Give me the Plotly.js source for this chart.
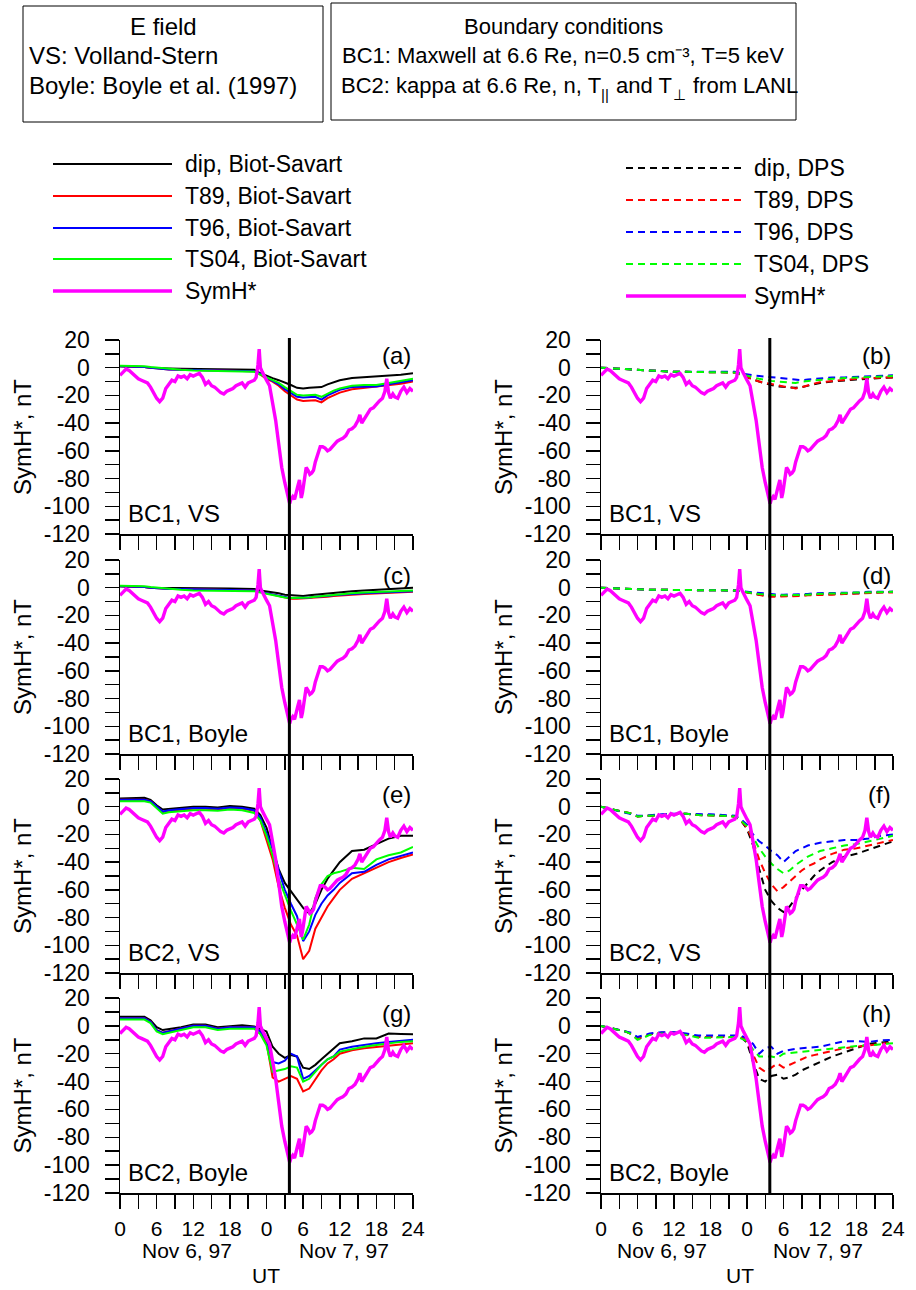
<!DOCTYPE html>
<html>
<head>
<meta charset="utf-8">
<script src="https://cdn.plot.ly/plotly-3.0.1.min.js"></script>
<style>html,body{margin:0;padding:0;background:#fff}#chart{width:916px;height:1290px}</style>
</head>
<body>
<div id="chart"></div>
<script>
// ---------- DATA ----------
// hours since 00 UT Nov 6, 1997
var modelHours = [0,2,4,5,6,7,8,10,12,14,16,18,20,22,23,24,25,26,27,28,29,30,31,32,33,34,35,36,38,40,42,44,46,48];

// (a) BC1, VS, Biot-Savart
var a_dip  = [1,1,0.5,0,0,-0.3,-0.5,-0.7,-0.8,-1,-1,-1,-1.2,-1.5,-4,-6,-7.5,-9,-10.5,-12.5,-14.5,-15,-14.5,-14.5,-14,-12,-10.5,-9,-7.5,-7,-6.5,-6,-5,-4];
var a_t89  = [1,1,0.5,0,-0.5,-1,-1.2,-1.5,-1.8,-2,-2,-2.2,-2.3,-2.5,-5,-8,-10,-13,-17,-20,-23,-24,-23.5,-23.5,-25,-22,-20,-18,-15.5,-14.5,-14,-13,-11.5,-10];
var a_t96  = [1,1,0.5,0,-0.5,-1,-1.2,-1.5,-1.8,-2,-2,-2.2,-2.3,-2.5,-4.5,-7,-9,-12,-15.5,-18.5,-21,-21.5,-21,-21,-23,-20,-18,-16,-14,-13.5,-13.5,-12,-10.5,-9];
var a_ts04 = [1.5,1.5,1,0.5,0,-0.5,-1,-1.5,-2,-2.2,-2.5,-2.5,-2.8,-3,-5,-7,-8.5,-11,-14,-17,-19.5,-20,-19.5,-19.5,-21,-18.5,-16.5,-15,-13,-12.5,-12.5,-11,-9.5,-8];
// (b) BC1, VS, DPS
var b_dip  = [0,-0.5,-1,-1.5,-2,-2,-2.2,-2.5,-3,-3,-3,-3,-3,-3.5,-5,-7,-8.5,-10,-11.5,-12.5,-13.5,-14,-14.5,-14.5,-14,-13,-12,-11,-10,-9,-8.5,-8,-7.5,-7];
var b_t89  = [0,-0.5,-1,-1.5,-2,-2,-2.2,-2.5,-3,-3,-3,-3,-3,-3.5,-5,-7,-8.5,-10,-11,-12,-13,-13.5,-14,-15,-14,-12.5,-11.5,-10.5,-9.5,-8.5,-8,-7.5,-7.5,-7];
var b_t96  = [0,-0.5,-1,-1.5,-2,-2,-2.2,-2.5,-3,-3,-3,-3,-3,-3,-4,-5,-5.5,-6,-6.5,-7,-7.5,-8,-8.5,-9,-9,-8.5,-8,-7.5,-7,-7,-6.5,-6.5,-6,-5.5];
var b_ts04 = [0,-0.5,-1,-1.5,-2,-2,-2.2,-2.5,-3,-3,-3,-3,-3,-3.5,-4.5,-6,-7,-8,-9,-9.5,-10,-10.5,-11,-11,-10,-9.5,-9,-8.5,-8,-7.5,-7,-7,-6.5,-6];
// (c) BC1, Boyle, Biot-Savart
var c_dip  = [1,1,0.5,0,0,-0.5,-0.5,-0.5,-0.5,-0.5,-0.5,-0.5,-0.7,-1,-2,-2.5,-3,-4,-5,-5.5,-6,-6,-5.5,-5,-4.5,-4,-3.5,-3,-2.5,-2,-1.5,-1,-0.5,0];
var c_t89  = [1,1,0.5,0,-0.5,-1,-1,-1,-1.2,-1.5,-1.5,-1.5,-1.7,-2,-3,-4,-5,-6,-7.5,-8,-8,-8,-7.5,-7,-7,-6.5,-6,-5.5,-5,-4.5,-4,-3.5,-3,-3];
var c_t96  = [1,1,0.5,0,-0.5,-1,-1,-1,-1.2,-1.5,-1.5,-1.5,-1.7,-2,-3,-4,-5,-6,-7,-7.5,-7.5,-7.5,-7,-6.5,-6.5,-6,-5.5,-5,-4.5,-4,-3.5,-3,-2.5,-2.5];
var c_ts04 = [1.5,1.5,1,0.5,0,-0.5,-1,-1.5,-2,-2,-2,-2,-2.2,-2.5,-3.5,-4.5,-5.5,-6.5,-7,-7.5,-7.5,-7.5,-7,-6.5,-6,-5.5,-5,-4.5,-4,-3.5,-3,-3,-2.5,-2];
// (d) BC1, Boyle, DPS
var d_dip  = [0,-0.5,-1,-1,-1.5,-1.5,-1.5,-1.5,-1.5,-1.5,-1.5,-1.5,-1.5,-2,-2.5,-3.5,-4.5,-5,-5.5,-6,-6,-6,-6,-5.5,-5.5,-5,-5,-5,-4.5,-4.5,-4,-3.5,-3.5,-3];
var d_t89  = [0,-0.5,-1,-1,-1.5,-1.5,-1.5,-1.5,-1.5,-1.5,-1.5,-1.5,-1.5,-2,-2.5,-3.5,-4.5,-5.5,-6,-6.5,-6.5,-6.5,-6.5,-6,-6,-5.5,-5.5,-5,-5,-4.5,-4,-4,-3.5,-3.5];
var d_t96  = [0,-0.5,-1,-1,-1.5,-1.5,-1.5,-1.5,-1.5,-1.5,-1.5,-1.5,-1.5,-2,-2.5,-3,-3.5,-4,-4.5,-5,-5,-5,-5,-4.5,-4.5,-4.5,-4,-4,-4,-3.5,-3.5,-3,-3,-3];
var d_ts04 = [0,-0.5,-1,-1,-1.5,-1.5,-1.5,-1.5,-1.5,-1.5,-1.5,-1.5,-1.5,-2,-2.5,-3.5,-4,-4.5,-5,-5.5,-5.5,-5.5,-5.5,-5,-5,-5,-4.5,-4.5,-4,-4,-3.5,-3.5,-3,-3];
// (e) BC2, VS, Biot-Savart
var e_dip  = [6,6,6.5,5,1,-2,-1.5,-0.5,0,0,-0.5,0.5,0,-1.5,-6,-15,-30,-45,-55,-61,-67,-73,-77,-70,-60,-52,-46,-40,-32,-31,-27,-23,-21,-21];
var e_t89  = [5,5,5,4,0,-4,-3,-2,-1.5,-1.5,-2,-1,-1.5,-3,-10,-24,-38,-58,-73,-85,-93,-110,-104,-88,-80,-72,-66,-60,-52,-48,-44,-40,-37,-34.5];
var e_t96  = [5,5,5,4,0,-3.5,-2.5,-1.5,-1,-1,-1.5,-0.5,-1,-2.5,-8,-19,-30,-46,-60,-70,-79,-97,-90,-78,-70,-64,-60,-55,-48,-47,-42,-38,-35.5,-33];
var e_ts04 = [4,4,4,3,-1,-5,-4,-3,-2.5,-2.5,-3,-2,-2.5,-4.5,-10,-21,-35,-52,-64,-75,-85,-96,-85,-66,-56,-50,-48,-47,-44,-45,-38,-35,-33,-29];
// (f) BC2, VS, DPS
var f_dip  = [0,-2,-4,-5,-7,-7,-6.5,-6,-5.5,-5,-6,-6,-6.5,-7,-10,-16,-28,-45,-60,-68,-73,-76,-72,-66,-60,-55,-50,-46,-40,-36,-34,-31,-28,-25];
var f_t89  = [0,-2,-4,-5,-7,-7,-6.5,-6,-5.5,-5,-6,-6,-6.5,-7,-10,-15,-25,-38,-48,-56,-61,-58,-54,-50,-46,-43,-41,-38,-34,-31,-30,-28,-26,-24];
var f_t96  = [0,-2,-4,-5,-6.5,-6.5,-6,-5.5,-5,-5,-5.5,-5.5,-6,-6.5,-9,-13,-20,-25,-28,-32,-35,-40,-36,-32,-30,-28,-27,-26,-25,-24,-24,-23,-21,-20];
var f_ts04 = [0,-2,-4,-5,-7,-7,-6.5,-6,-5.5,-5,-6,-6,-6.5,-7,-10,-14,-22,-30,-36,-41,-45,-48,-46,-42,-39,-36,-34,-32,-30,-28,-27,-25,-23,-21];
// (g) BC2, Boyle, Biot-Savart
var g_dip  = [6.5,6.5,6.5,4,-1,-3,-2.5,-1,1,1,-1,0,0.5,-0.5,-2,-4,-15,-20,-23,-21,-22,-30,-31,-28,-24,-20,-16,-12.5,-11,-9,-9,-5.5,-5.8,-6];
var g_t89  = [5.5,5.5,5.5,3,-3,-5,-4,-2,0,0,-2,-1,-1,-1,-4,-12,-37,-40,-38,-36,-38,-47,-45,-38,-32,-27,-24,-20,-17.5,-16,-15,-14,-13,-12.5];
var g_t96  = [5.5,5.5,5.5,3,-3,-5,-4,-2,0,0,-2,-1,-1,-1,-4,-10,-26,-27,-25,-20,-22,-38,-36,-32,-28,-24,-22,-17,-15,-13.5,-12.5,-11.5,-10.5,-10];
var g_ts04 = [4.5,4.5,4.5,2,-4,-6,-5,-3,-1,-1,-3,-2,-2,-2,-6,-14,-33,-32,-31,-29,-30,-40,-38,-33,-28,-24,-22,-18.5,-16.5,-15,-13.7,-12.5,-11.5,-11];
// (h) BC2, Boyle, DPS
var h_dip  = [0,-2,-4,-6,-9,-8,-6,-5,-5,-6,-8,-8,-8,-7.5,-8,-12,-26,-38,-40,-36,-35,-38,-37,-35,-32,-30,-28,-26,-22,-19,-16,-13,-12,-11];
var h_t89  = [0,-2,-4,-6,-9,-8,-6,-5,-5,-6,-8,-8,-8,-7.5,-8,-11,-21,-30,-33,-30,-27,-30,-28,-26,-24,-22,-21,-20,-18,-16,-15,-14,-13,-12];
var h_t96  = [0,-2,-3.5,-5,-8,-7,-5.5,-4.5,-4.5,-5.5,-7,-7,-7,-6.5,-7,-9,-13,-20,-16,-15,-20,-18,-17,-16.5,-16,-15.5,-15,-15,-13,-11,-11,-11.5,-10.5,-10];
var h_ts04 = [0,-2,-4,-6,-10,-8.5,-6.5,-5.5,-5.5,-6.5,-8.5,-8.5,-8.5,-8,-9,-11,-17,-22,-22,-22,-23,-20,-19.5,-19,-18.5,-18,-17.5,-17.5,-16,-15,-14.5,-14,-13,-12.5];

// observed SymH*
var symHours = [0,0.5,1,1.5,2,2.5,3,3.5,4,4.5,5,5.5,6,6.5,7,7.5,8,8.5,9,9.5,10,10.5,11,11.5,12,12.5,13,13.5,14,14.5,15,15.5,16,16.5,17,17.5,18,18.5,19,19.5,20,20.5,21,21.5,22,22.3,22.6,22.8,23,23.3,23.6,24,24.5,25,25.5,26,26.5,27,27.5,27.8,28,28.3,28.6,28.8,29.1,29.4,29.7,29.9,30.2,30.5,30.8,31.1,31.4,31.7,32,32.4,32.8,33.2,33.6,34,34.4,34.8,35.2,35.6,36,36.5,37,37.5,38,38.5,39,39.3,39.6,40,40.5,41,41.5,42,42.5,43,43.4,43.7,44,44.3,44.7,45,45.5,46,46.5,47,47.5,48];
var symH = [-5.5,-3,-1,-2,-4,-6,-8,-9,-10,-11,-14,-18,-22,-24.5,-22,-15,-12,-9,-10,-6,-7,-6,-8,-5,-6,-5,-4,-7,-12,-10,-13,-14,-16,-18,-19,-17,-16,-15,-13,-12,-11,-14,-11,-10,-9,-7,2,13.5,0,-3,-6,-9,-13,-25,-38,-55,-72,-83,-92,-98,-95,-93,-95,-90,-86,-81,-94,-90,-80,-72,-74,-77,-76,-74,-68,-62,-57,-57,-58,-60,-59,-57,-55,-53,-52,-51,-49,-45,-44,-42,-38,-34,-40,-37,-33,-30,-29,-26,-24,-22,-17,-8,-18,-22,-19,-21,-22,-17,-14,-18,-15,-17];

var eventHour = 27.75;   // vertical marker

var panelLetters = ['(a)','(b)','(c)','(d)','(e)','(f)','(g)','(h)'];
var panelCases = ['BC1, VS','BC1, VS','BC1, Boyle','BC1, Boyle','BC2, VS','BC2, VS','BC2, Boyle','BC2, Boyle'];
var modelNames = ['dip','T89','T96','TS04'];
var modelColors = ['#000000','#ff0000','#0000ff','#00ff00'];
var leftLegend = ['dip, Biot-Savart','T89, Biot-Savart','T96, Biot-Savart','TS04, Biot-Savart','SymH*'];
var rightLegend = ['dip, DPS','T89, DPS','T96, DPS','TS04, DPS','SymH*'];
var xTickVals = [0,6,12,18,24,30,36,42,48];
var xTickText = ['0','6','12','18','0','6','12','18','24'];
var xMinorVals = [3,9,15,21,27,33,39,45];
var yTickVals = [-120,-100,-80,-60,-40,-20,0,20];
var yTickText = ['-120','-100','-80','-60','-40','-20','0','20'];
var yMinorVals = [-110,-90,-70,-50,-30,-10,10];
var dayLabels = ['Nov 6, 97','Nov 7, 97'];
var dayLabelHours = [[11.0,36.7],[10.0,35.6]];
var utLabelHour = [23.9,22.9];

var panelSeries = [
  [a_dip,a_t89,a_t96,a_ts04],[b_dip,b_t89,b_t96,b_ts04],
  [c_dip,c_t89,c_t96,c_ts04],[d_dip,d_t89,d_t96,d_ts04],
  [e_dip,e_t89,e_t96,e_ts04],[f_dip,f_t89,f_t96,f_ts04],
  [g_dip,g_t89,g_t96,g_ts04],[h_dip,h_t89,h_t96,h_ts04]
];

// ---------- LAYOUT ----------
var W = 916, H = 1290;
var FONT = "'Liberation Sans', Arial, Helvetica, sans-serif";
function px(x){return x/W;}
function py(y){return 1 - y/H;}
var colX = [[120,413],[601,893]];
var rowY = [[340,534],[560,754],[779,973],[998,1193]];
var titleX = [22,503];
var DASH = '7px,5px';

var traces = [];
var layout = {
  width: W, height: H, margin:{l:0,r:0,t:0,b:0},
  paper_bgcolor:'#fff', plot_bgcolor:'rgba(0,0,0,0)',
  showlegend:false, font:{family:FONT, color:'#000', size:22},
  shapes:[], annotations:[]
};

for (var p=0;p<8;p++){
  var col = p%2, row = Math.floor(p/2);
  var idx = p+1, xs = idx===1?'':String(idx);
  var xa = 'x'+xs, ya = 'y'+xs;
  var dashed = (col===1);
  panelSeries[p].forEach(function(vals,k){
    traces.push({x:modelHours, y:vals, xaxis:xa, yaxis:ya, type:'scatter', mode:'lines',
      name:modelNames[k], line:{color:modelColors[k], width:2, dash: dashed?DASH:'solid'}});
  });
  traces.push({x:symHours, y:symH, xaxis:xa, yaxis:ya, type:'scatter', mode:'lines',
    name:'SymH*', line:{color:'#ff00ff', width:3.4}});
  var bottom = (row===3);
  layout['xaxis'+xs] = {
    domain:[px(colX[col][0]), px(colX[col][1])], anchor:ya, range:[0,48],
    tickmode:'array', tickvals:xTickVals, ticktext:xTickText,
    showticklabels:bottom, ticks:'outside', ticklen:14, tickwidth:1.5, tickcolor:'#000',
    minor:{tickmode:'array', tickvals:xMinorVals, ticks:'outside', ticklen:14, tickwidth:1.5, tickcolor:'#000', showgrid:false},
    ticklabelstandoff:2,
    showline:true, linecolor:'#000', linewidth:1.5, showgrid:false, zeroline:false,
    tickfont:{size:21, family:FONT, color:'#000'}, fixedrange:true
  };
  layout['yaxis'+xs] = {
    domain:[py(rowY[row][1]), py(rowY[row][0])], anchor:xa, range:[-120,20],
    tickmode:'array', tickvals:yTickVals, ticktext:yTickText,
    ticks:'outside', ticklen:14, tickwidth:1.5, tickcolor:'#000',
    minor:{tickmode:'array', tickvals:yMinorVals, ticks:'outside', ticklen:14, tickwidth:1.5, tickcolor:'#000', showgrid:false},
    ticklabelstandoff:10,
    showline:true, linecolor:'#000', linewidth:1.5, showgrid:false, zeroline:false,
    tickfont:{size:23, family:FONT, color:'#000'}, fixedrange:true
  };
  // y-axis title
  layout.annotations.push({xref:'paper', yref:ya+' domain', x:px(titleX[col]), y:0.5, xanchor:'center', yanchor:'middle',
    text:'SymH*, nT', textangle:-90, showarrow:false, font:{size:24, family:FONT, color:'#000'}});
  layout.annotations.push({xref:xa+' domain', yref:ya+' domain', x:1.0, y:1.0, xanchor:'right', yanchor:'top',
    text:panelLetters[p], showarrow:false, font:{size:24, family:FONT, color:'#000'}});
  layout.annotations.push({xref:xa+' domain', yref:ya+' domain', x:0.02, y:0.105, xanchor:'left', yanchor:'middle',
    text:panelCases[p], showarrow:false, font:{size:24, family:FONT, color:'#000'}});
  if (row===0){
    layout.shapes.push({type:'line', xref:xa, yref:'paper', x0:eventHour, x1:eventHour,
      y0:py(rowY[3][1]), y1:py(rowY[0][0]-2), line:{color:'#000', width:3}});
  }
  if (bottom){
    dayLabels.forEach(function(t,j){
      layout.annotations.push({xref:xa, yref:'paper', x:dayLabelHours[col][j], y:py(1250), xanchor:'center', yanchor:'middle',
        text:t, showarrow:false, font:{size:21, family:FONT, color:'#000'}});
    });
    layout.annotations.push({xref:xa, yref:'paper', x:utLabelHour[col], y:py(1275), xanchor:'center', yanchor:'middle',
      text:'UT', showarrow:false, font:{size:21, family:FONT, color:'#000'}});
  }
}

// legends (drawn manually)
var legColors = modelColors.concat(['#ff00ff']);
var legRowsL = [164,196,228,259,291], legRowsR = [168,200,232,264,296];
for (var i=0;i<5;i++){
  layout.shapes.push({type:'line', xref:'paper', yref:'paper', x0:px(53), x1:px(172), y0:py(legRowsL[i]), y1:py(legRowsL[i]),
    line:{color:legColors[i], width: i===4?3.5:2}});
  layout.annotations.push({xref:'paper', yref:'paper', x:px(183), y:py(legRowsL[i]), xanchor:'left', yanchor:'middle',
    text:leftLegend[i], showarrow:false, font:{size:23, family:FONT, color:'#000'}});
  layout.shapes.push({type:'line', xref:'paper', yref:'paper', x0:px(626), x1:px(746), y0:py(legRowsR[i]), y1:py(legRowsR[i]),
    line:{color:legColors[i], width: i===4?3.5:2, dash: i===4?'solid':DASH}});
  layout.annotations.push({xref:'paper', yref:'paper', x:px(752), y:py(legRowsR[i]), xanchor:'left', yanchor:'middle',
    text:rightLegend[i], showarrow:false, font:{size:23, family:FONT, color:'#000'}});
}

// header boxes
layout.shapes.push({type:'rect', xref:'paper', yref:'paper', x0:px(23), x1:px(323), y0:py(122), y1:py(6), line:{color:'#000', width:1}});
layout.shapes.push({type:'rect', xref:'paper', yref:'paper', x0:px(331), x1:px(796), y0:py(120), y1:py(3), line:{color:'#000', width:1}});
var boxText = [
  {x:163, y:27, t:'E field', a:'center', s:24},
  {x:27, y:56, t:'VS: Volland-Stern', a:'left', s:24},
  {x:27, y:86, t:'Boyle: Boyle et al. (1997)', a:'left', s:24},
  {x:563, y:27, t:'Boundary conditions', a:'center', s:22},
  {x:340, y:56, t:'BC1: Maxwell at 6.6 Re, n=0.5 cm⁻³, T=5 keV', a:'left', s:22}
];
boxText.forEach(function(b){
  layout.annotations.push({xref:'paper', yref:'paper', x:px(b.x), y:py(b.y), xanchor:b.a, yanchor:'middle',
    text:b.t, showarrow:false, font:{size:b.s, family:FONT, color:'#000'}});
});

// BC2 line with subscripts, laid out as segments measured with canvas
(function(){
  var segs = [
    {t:'BC2: kappa at 6.6 Re, n, T', sub:false},
    {t:'||', sub:true},
    {t:' and T', sub:false},
    {t:'⊥', sub:true},
    {t:' from LANL', sub:false}
  ];
  var main = 22, small = 15;
  var ctx = document.createElement('canvas').getContext('2d');
  function meas(t, s){ ctx.font = s + "px 'Liberation Sans', Arial, sans-serif"; return ctx.measureText(t).width; }
  var x = 340, yMain = 86;
  segs.forEach(function(sg){
    var s = sg.sub ? small : main;
    var lead = sg.t.match(/^\s*/)[0];
    var shown = sg.t.trim();
    var x0 = x + (lead ? meas(lead, s) : 0);
    layout.annotations.push({xref:'paper', yref:'paper', x:px(x0 - 1), y:py(sg.sub ? yMain + 8 : yMain),
      xanchor:'left', yanchor:'middle', text:shown, showarrow:false, font:{size:s, family:FONT, color:'#000'}});
    x += meas(sg.t, s) + (sg.sub ? 1 : 0);
  });
})();

Plotly.newPlot('chart', traces, layout, {staticPlot:true, displayModeBar:false});
</script>
</body>
</html>
